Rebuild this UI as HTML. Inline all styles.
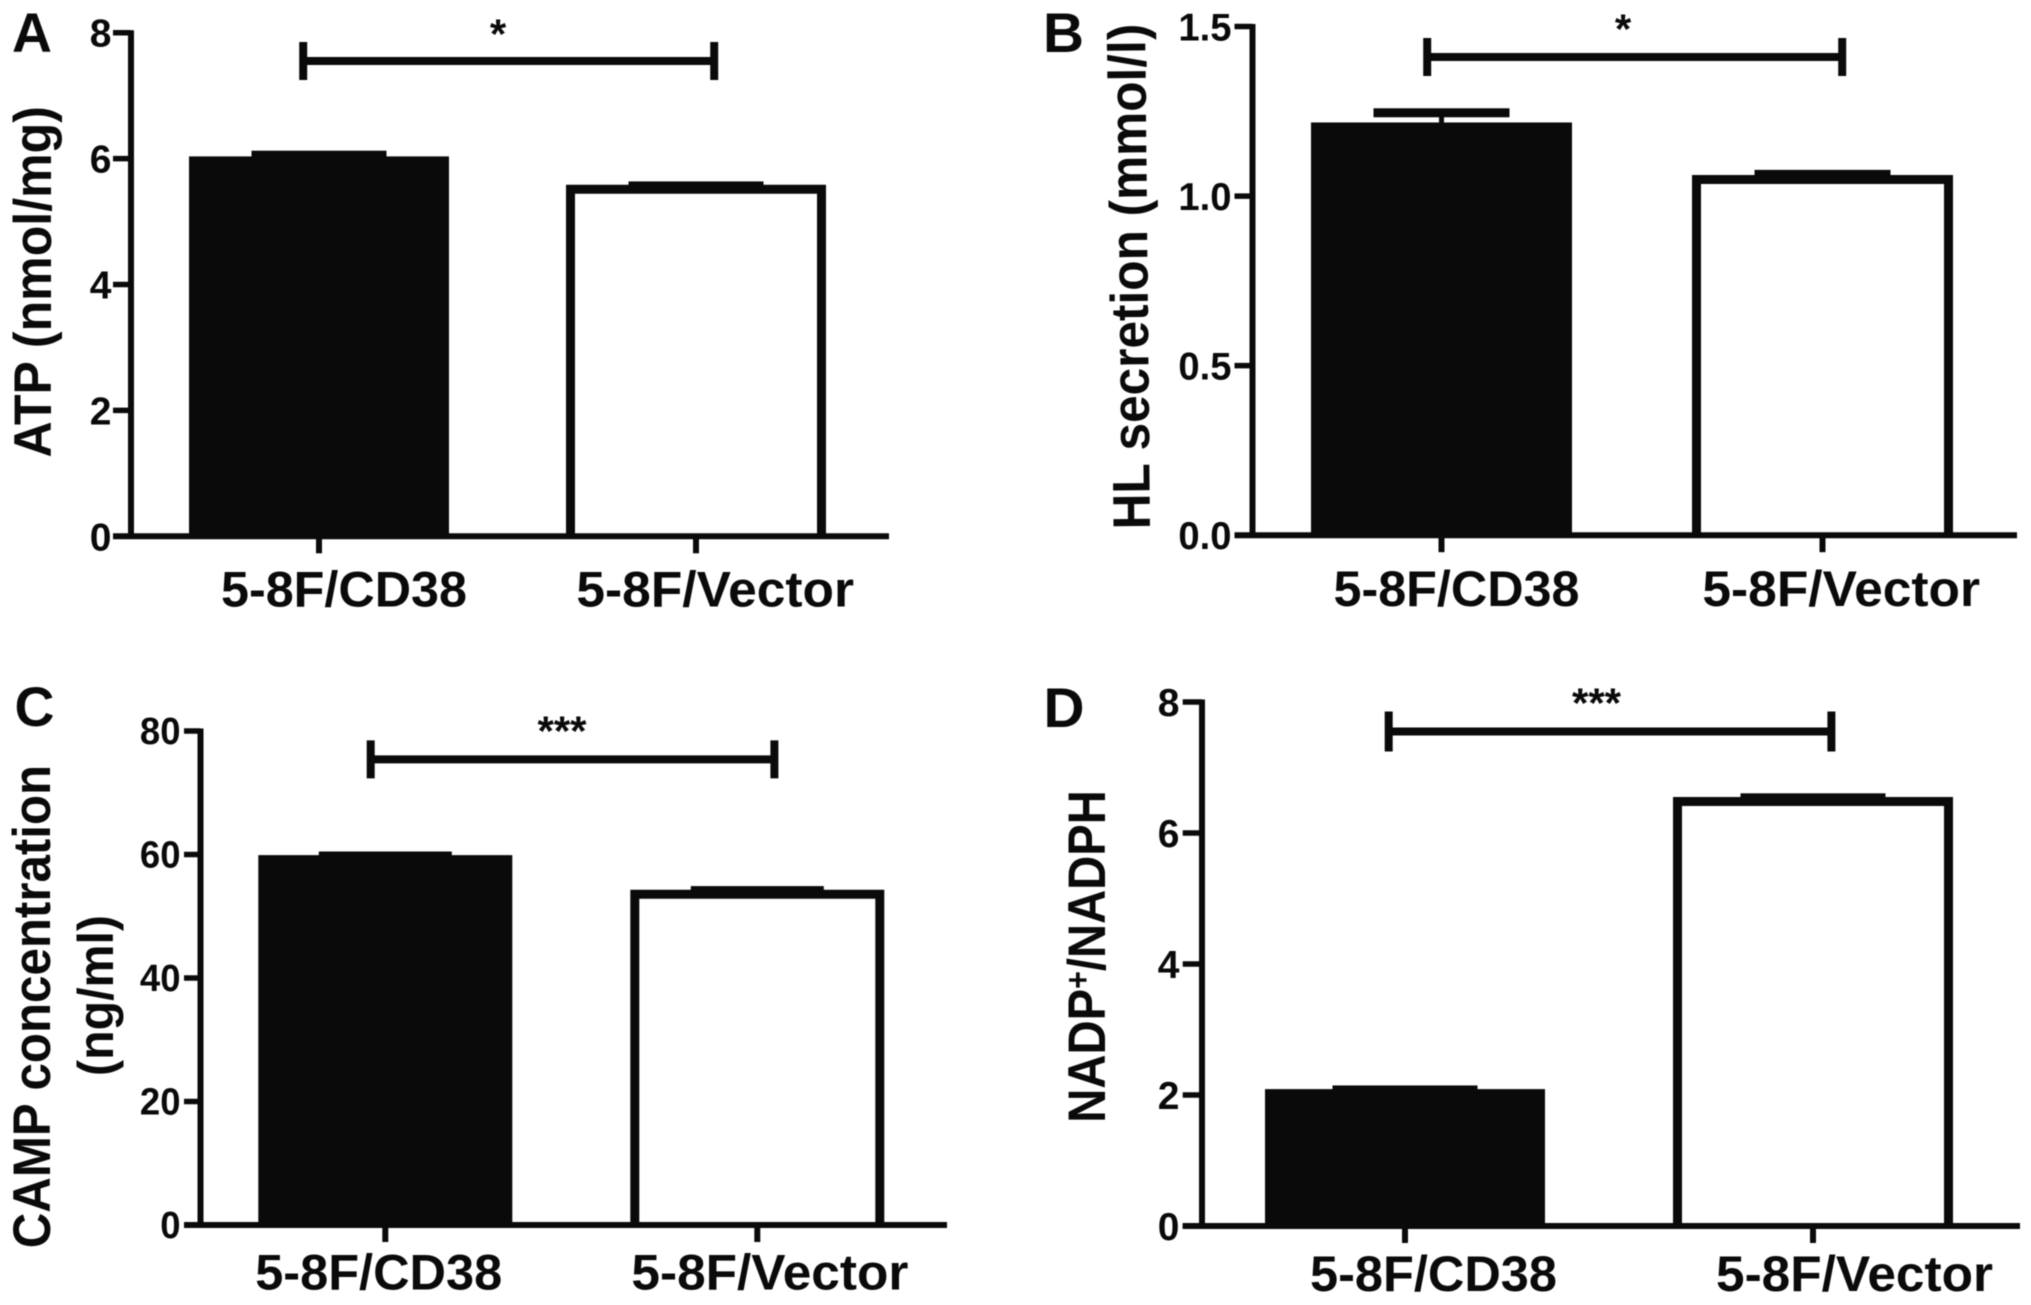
<!DOCTYPE html>
<html lang="en">
<head>
<meta charset="utf-8">
<title>5-8F/CD38 versus 5-8F/Vector bar charts</title>
<style>
html,body{margin:0;padding:0;background:#fff;width:2031px;height:1305px;overflow:hidden}
svg{display:block;filter:blur(0.6px)}
text{font-family:"Liberation Sans",sans-serif;font-weight:700;fill:#0a0a0a}
</style>
</head>
<body>
<svg id="figure" xmlns="http://www.w3.org/2000/svg" width="2031" height="1305" viewBox="0 0 2031 1305">
<rect x="0" y="0" width="2031" height="1305" fill="#ffffff"/>
</svg>
<script>
// ---- chart data ----
const categories = ['5-8F/CD38', '5-8F/Vector'];

const atpValues = [6.035, 5.585];
const atpErrors = [0.043, 0.005];
const atpTicks = [0, 2, 4, 6, 8];
const atpTickLabels = ['0', '2', '4', '6', '8'];
const atpBracketLevel = 7.55;
const atpStars = '*';

const hlValues = [1.217, 1.062];
const hlErrors = [0.0286, 0.002];
const hlTicks = [0, 0.5, 1, 1.5];
const hlTickLabels = ['0.0', '0.5', '1.0', '1.5'];
const hlBracketLevel = 1.41;
const hlStars = '*';

const campValues = [59.9, 54.3];
const campErrors = [0.1, 0.1];
const campTicks = [0, 20, 40, 60, 80];
const campTickLabels = ['0', '20', '40', '60', '80'];
const campBracketLevel = 75.4;
const campStars = '***';

const nadpValues = [2.09, 6.55];
const nadpErrors = [0.01, 0.01];
const nadpTicks = [0, 2, 4, 6, 8];
const nadpTickLabels = ['0', '2', '4', '6', '8'];
const nadpBracketLevel = 7.55;
const nadpStars = '***';

const INK = '#0a0a0a';
const NS = 'http://www.w3.org/2000/svg';
const root = document.getElementById('figure');

function mk(parent, tag, name, attrs) {
  const el = document.createElementNS(NS, tag);
  
  
  for (const k in attrs) el.setAttribute(k, attrs[k]);
  parent.appendChild(el);
  return el;
}

// Places text and stretches it to a target width (or by a fixed horizontal factor)
function label(parent, name, str, o) {
  const t = mk(parent, 'text', name, {'font-size': o.size, 'text-anchor': o.anchor || 'start'});
  if (Array.isArray(str)) {
    str.forEach(function (part) {
      const s = mk(t, 'tspan', part.name, {});
      if (part.size) s.setAttribute('font-size', part.size);
      if (part.dy) s.setAttribute('dy', part.dy);
      s.textContent = part.text;
    });
  } else {
    t.textContent = str;
  }
  let sx = o.sx || 1;
  if (o.width) sx = o.width / t.getComputedTextLength();
  t.setAttribute('transform', 'translate(' + o.x + ',' + o.y + ') rotate(' + (o.rot || 0) + ') scale(' + sx + ',1)');
  return t;
}

function drawPanel(p) {
  const g = mk(root, 'g', 'panel-' + p.id, {});
  const yMax = p.ticks[p.ticks.length - 1];
  const yScale = function (v) { return p.base - (v / yMax) * (p.base - p.top); };
  const xScale = function (i) { return p.x0 + i * p.step; };

  label(g, 'panel-letter-' + p.id, p.letter, {x: p.letterX, y: p.letterY, size: 56, width: p.letterW});

  // bars
  p.values.forEach(function (v, i) {
    const cx = xScale(i), top = yScale(v), capY = yScale(v + p.errors[i]);
    const barName = 'bar-' + p.id + '-' + (i === 0 ? 'cd38' : 'vector');
    mk(g, 'line', 'error-stem-' + p.id + '-' + (i + 1), {x1: cx, x2: cx, y1: capY, y2: top + 2, stroke: INK, 'stroke-width': 5});
    mk(g, 'rect', 'error-cap-' + p.id + '-' + (i + 1), {x: cx - p.capW / 2, y: capY - p.capH / 2, width: p.capW, height: p.capH, fill: INK});
    const left = cx - p.barW / 2;
    if (i === 0) {
      mk(g, 'rect', barName, {x: left, y: top, width: p.barW, height: p.base - top, fill: INK});
    } else {
      const inset = 4.5;
      const d = 'M' + (left + inset) + ' ' + p.base + 'V' + (top + inset) + 'H' + (left + p.barW - inset) + 'V' + p.base;
      mk(g, 'path', barName, {d: d, fill: '#ffffff', stroke: INK, 'stroke-width': 9});
    }
  });

  // y axis
  mk(g, 'line', 'y-axis-' + p.id, {x1: p.axisX, x2: p.axisX, y1: yScale(yMax) - 2.5, y2: p.base, stroke: INK, 'stroke-width': 6});
  p.ticks.forEach(function (v, i) {
    const y = yScale(v);
    mk(g, 'line', 'y-tick-' + p.id + '-' + i, {x1: p.tickLeft, x2: p.axisX, y1: y, y2: y, stroke: INK, 'stroke-width': 5.5});
    label(g, 'y-tick-label-' + p.id + '-' + i, p.tickLabels[i], {x: p.tickRight, y: y + p.tickBase, size: p.tickSize, anchor: 'end', sx: p.tickSx});
  });

  // x axis
  mk(g, 'line', 'x-axis-' + p.id, {x1: p.tickLeft, x2: p.axisRight, y1: p.base, y2: p.base, stroke: INK, 'stroke-width': 6});
  categories.forEach(function (c, i) {
    const cx = xScale(i);
    mk(g, 'line', 'x-tick-' + p.id + '-' + i, {x1: cx, x2: cx, y1: p.base, y2: p.base + 17, stroke: INK, 'stroke-width': 6});
    label(g, 'x-tick-label-' + p.id + '-' + i, c, {x: p.catX[i], y: p.catY, size: 50, width: p.catW[i]});
  });

  // significance bracket
  const by = yScale(p.bracket);
  mk(g, 'line', 'significance-bracket-' + p.id, {x1: p.brA, x2: p.brB, y1: by, y2: by, stroke: INK, 'stroke-width': 8});
  mk(g, 'line', 'significance-bracket-left-' + p.id, {x1: p.brA, x2: p.brA, y1: by - p.brH, y2: by + p.brH, stroke: INK, 'stroke-width': 8});
  mk(g, 'line', 'significance-bracket-right-' + p.id, {x1: p.brB, x2: p.brB, y1: by - p.brH, y2: by + p.brH, stroke: INK, 'stroke-width': 8});
  label(g, 'significance-stars-' + p.id, p.stars, {x: p.starX, y: p.starY + 23, size: 42, anchor: 'middle'});

  // y titles
  p.titles.forEach(function (t, i) {
    label(g, 'y-axis-title-' + p.id + (i ? '-line-2' : ''), t.text, {x: t.x, y: t.y, size: t.size, width: t.len, rot: t.rot || -90});
  });
}

drawPanel({
  id: 'a', letter: 'A', letterX: 12, letterY: 52, letterW: 40,
  values: atpValues, errors: atpErrors, ticks: atpTicks, tickLabels: atpTickLabels, bracket: atpBracketLevel, stars: atpStars,
  top: 32.7, base: 536.3, axisX: 131, axisRight: 889, tickLeft: 113, tickRight: 111.5, tickSize: 39, tickSx: 1, tickBase: 14,
  x0: 319, step: 377, barW: 260, capW: 135, capH: 6,
  catX: [221, 576.4], catW: [246, 277.6], catY: 606.5,
  brA: 303.2, brB: 714.2, brH: 19, starX: 498, starY: 25.5,
  titles: [{text: 'ATP (nmol/mg)', x: 51, y: 457.5, len: 351.5, size: 53}]
});

drawPanel({
  id: 'b', letter: 'B', letterX: 1043, letterY: 52, letterW: 41,
  values: hlValues, errors: hlErrors, ticks: hlTicks, tickLabels: hlTickLabels, bracket: hlBracketLevel, stars: hlStars,
  top: 26.5, base: 535.2, axisX: 1252.5, axisRight: 2017, tickLeft: 1234.5, tickRight: 1231.5, tickSize: 39, tickSx: 0.98, tickBase: 14,
  x0: 1441.5, step: 381, barW: 261, capW: 136, capH: 9,
  catX: [1333.5, 1702.4], catW: [246, 277.6], catY: 606,
  brA: 1427.2, brB: 1842.2, brH: 19, starX: 1623, starY: 20.5,
  titles: [{text: 'HL secretion (mmol/l)', x: 1150, y: 529.3, len: 506, size: 53, rot: -90.55}]
});

drawPanel({
  id: 'c', letter: 'C', letterX: 14.5, letterY: 726, letterW: 40,
  values: campValues, errors: campErrors, ticks: campTicks, tickLabels: campTickLabels, bracket: campBracketLevel, stars: campStars,
  top: 731, base: 1225, axisX: 200.5, axisRight: 947, tickLeft: 184, tickRight: 180.5, tickSize: 38, tickSx: 0.96, tickBase: 13,
  x0: 385.3, step: 372, barW: 254, capW: 133, capH: 6,
  catX: [255.2, 631.4], catW: [247, 277], catY: 1289.5,
  brA: 370.7, brB: 774.4, brH: 19, starX: 562, starY: 722.5,
  titles: [
    {text: 'CAMP concentration', x: 50, y: 1248.3, len: 483.5, size: 53},
    {text: '(ng/ml)', x: 113, y: 1076, len: 161, size: 50}
  ]
});

drawPanel({
  id: 'd', letter: 'D', letterX: 1043.5, letterY: 727, letterW: 41,
  values: nadpValues, errors: nadpErrors, ticks: nadpTicks, tickLabels: nadpTickLabels, bracket: nadpBracketLevel, stars: nadpStars,
  top: 702, base: 1226, axisX: 1202, axisRight: 2020, tickLeft: 1182.7, tickRight: 1179.5, tickSize: 39, tickSx: 1, tickBase: 14,
  x0: 1405, step: 408, barW: 280, capW: 145, capH: 6,
  catX: [1310, 1716], catW: [247, 277], catY: 1291,
  brA: 1388.7, brB: 1831.4, brH: 20, starX: 1596.5, starY: 694.5,
  titles: [{text: [
    {name: 'y-title-nadp', text: 'NADP'},
    {name: 'y-title-plus-superscript', text: '+', size: 34, dy: -16},
    {name: 'y-title-nadph', text: '/NADPH', dy: 16}
  ], x: 1105, y: 1122.7, len: 332.7, size: 53}]
});
</script>
</body>
</html>
